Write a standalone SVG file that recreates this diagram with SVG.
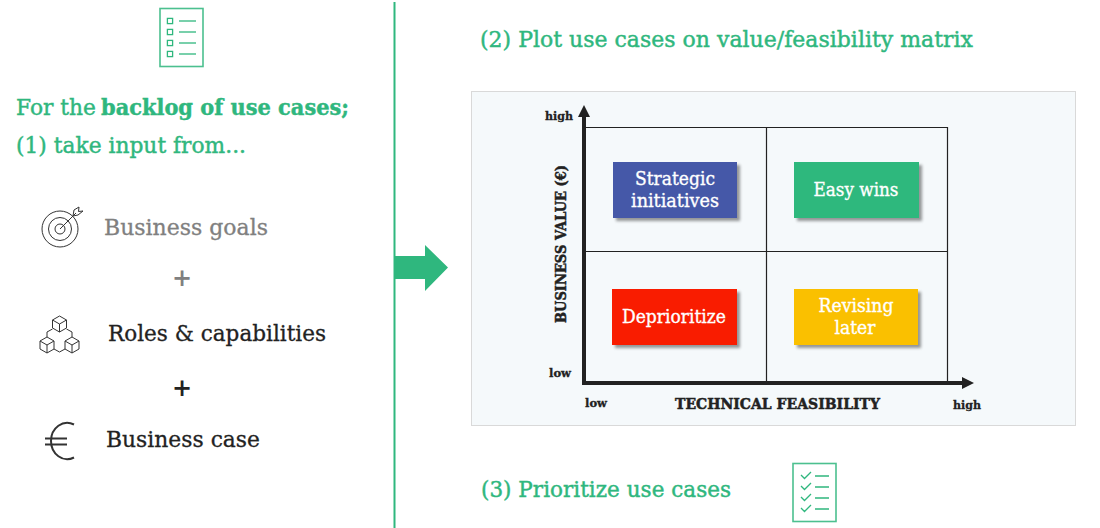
<svg xmlns="http://www.w3.org/2000/svg" width="1100" height="528" viewBox="0 0 1100 528">
<style>
text{font-family:"DejaVu Serif","Liberation Serif",serif}
.g{fill:#2fb77e;stroke:#2fb77e;stroke-width:.45}
.h{font-size:23px}
.t{font-size:22px;fill:#222;stroke:#222;stroke-width:.3}
.b{font-size:18.5px;fill:#fff;stroke:#fff;stroke-width:.35;text-anchor:middle}
.s{font-size:11.5px;font-weight:700;fill:#222;stroke:#222;stroke-width:.3}
.a{font-size:15px;font-weight:700;fill:#222;stroke:#222;stroke-width:.5}
.ic{fill:none;stroke:#333;stroke-width:1}
.doc{fill:none;stroke:#4cc08f;stroke-width:1.6}
.dl{fill:none;stroke:#2fb77e;stroke-width:1.3}
.grid{fill:none;stroke:#222;stroke-width:1.2}
</style>
<defs>
<filter id="sh" x="-10%" y="-15%" width="125%" height="140%"><feDropShadow dx="3" dy="3" stdDeviation="1.8" flood-color="#000" flood-opacity="0.4"/></filter>
<g id="cube"><path class="ic" d="M0-8 7-4V4L0 8-7 4V-4ZM-7-4 0 0 7-4M0 0V8"/></g>
<g id="box"><rect x="-2.6" y="-2.6" width="5.2" height="5.2" class="dl"/><path class="dl" d="M9 0H26"/></g>
<g id="chk"><path class="dl" d="M-5 -1 -1.5 2.5 5 -4M9 0H23"/></g>
</defs>
<g id="divider"><path d="M394.5 2V528" stroke="#2fb77e" stroke-width="2" fill="none"/></g>
<g id="backlog-icon">
<rect class="doc" x="160" y="8.5" width="43" height="58"/>
<use href="#box" x="170" y="21"/><use href="#box" x="170" y="32"/><use href="#box" x="170" y="43"/><use href="#box" x="170" y="54"/>
</g>
<g id="intro">
<text class="h g" x="16" y="115" textLength="80" lengthAdjust="spacingAndGlyphs">For the</text>
<text class="h g" x="101" y="115" font-weight="700" textLength="248" lengthAdjust="spacingAndGlyphs">backlog of use cases;</text>
<text class="h g" x="16" y="153" textLength="230" lengthAdjust="spacingAndGlyphs">(1) take input from...</text>
</g>
<g id="goals">
<g class="ic"><circle cx="60" cy="229" r="18"/><circle cx="60" cy="229" r="11.5"/><circle cx="60" cy="229" r="5"/><path d="M60 229 76 213M73 216 74 210 79 207 78.500 211.500 83 211 78 215Z"/></g>
<text class="t" x="104" y="235" style="fill:#808080;stroke:#808080" textLength="164" lengthAdjust="spacingAndGlyphs">Business goals</text>
</g>
<text x="182" y="286" font-size="24" font-weight="700" text-anchor="middle" fill="#808080">+</text>
<g id="roles">
<use href="#cube" x="59.500" y="324"/><use href="#cube" x="47" y="345"/><use href="#cube" x="72" y="345"/>
<path class="ic" d="M52.500 329 47 332V337M66.500 329 72 332V337M54 349 59.500 352 65 349"/>
<text class="t" x="108" y="341" textLength="218" lengthAdjust="spacingAndGlyphs">Roles &amp; capabilities</text>
</g>
<text x="182" y="396" font-size="24" font-weight="700" text-anchor="middle" fill="#222">+</text>
<g id="case">
<path d="M74 424.500C63 419 51 428 51 441C51 454 63 463 74 457.500M45 438.500H67M45 444.500H67" fill="none" stroke="#333" stroke-width="2"/>
<text class="t" x="106" y="447" textLength="154" lengthAdjust="spacingAndGlyphs">Business case</text>
</g>
<g id="connectors"><path d="M394 256H425V245L448 267.500 425 291V279H394Z" fill="#2fb77e"/></g>
<text class="h g" x="480" y="47" textLength="493" lengthAdjust="spacingAndGlyphs">(2) Plot use cases on value/feasibility matrix</text>
<g id="matrix">
<rect x="471.500" y="91.500" width="604" height="334" fill="#f5f9fb" stroke="#d9d9d9"/>
<path class="grid" d="M585 127.500H947.500V382M766.500 127.500V382M585 251.500H947.500"/>
<path d="M584 384V116" stroke="#222" stroke-width="4" fill="none"/>
<path d="M578 117 584 105 590 117Z" fill="#222"/>
<path d="M582 383H963" stroke="#222" stroke-width="4" fill="none"/>
<path d="M962 377 974 383 962 389Z" fill="#222"/>
<text class="s" x="545" y="120" textLength="28" lengthAdjust="spacingAndGlyphs">high</text>
<text class="s" x="549" y="377" textLength="22" lengthAdjust="spacingAndGlyphs">low</text>
<text class="s" x="585" y="407" textLength="22" lengthAdjust="spacingAndGlyphs">low</text>
<text class="s" x="953" y="409" textLength="28" lengthAdjust="spacingAndGlyphs">high</text>
<text class="a" x="675" y="409" textLength="205" lengthAdjust="spacingAndGlyphs">TECHNICAL FEASIBILITY</text>
<text class="a" transform="translate(566 323) rotate(-90)" textLength="158" lengthAdjust="spacingAndGlyphs">BUSINESS VALUE (€)</text>
</g>
<g id="strategic"><rect x="613" y="162" width="124" height="56" fill="#4459a8" filter="url(#sh)"/><text class="b" x="675" y="185" textLength="80" lengthAdjust="spacingAndGlyphs">Strategic</text><text class="b" x="675" y="207" textLength="88" lengthAdjust="spacingAndGlyphs">initiatives</text></g>
<g id="easy"><rect x="794" y="162" width="125" height="56" fill="#2db87d" filter="url(#sh)"/><text class="b" x="856" y="196" textLength="85" lengthAdjust="spacingAndGlyphs">Easy wins</text></g>
<g id="deprioritize"><rect x="612" y="289" width="125" height="56" fill="#f91a00" filter="url(#sh)"/><text class="b" x="674" y="323" textLength="104" lengthAdjust="spacingAndGlyphs">Deprioritize</text></g>
<g id="revising"><rect x="794" y="289" width="124" height="56" fill="#fac000" filter="url(#sh)"/><text class="b" x="856" y="312" textLength="75" lengthAdjust="spacingAndGlyphs">Revising</text><text class="b" x="855" y="334" textLength="41" lengthAdjust="spacingAndGlyphs">later</text></g>
<text class="h g" x="481" y="497" textLength="250" lengthAdjust="spacingAndGlyphs">(3) Prioritize use cases</text>
<g id="prioritized-icon">
<rect class="doc" x="793" y="463.500" width="43" height="58"/>
<use href="#chk" x="806" y="476"/><use href="#chk" x="806" y="487"/><use href="#chk" x="806" y="498"/><use href="#chk" x="806" y="509"/>
</g>
</svg>
